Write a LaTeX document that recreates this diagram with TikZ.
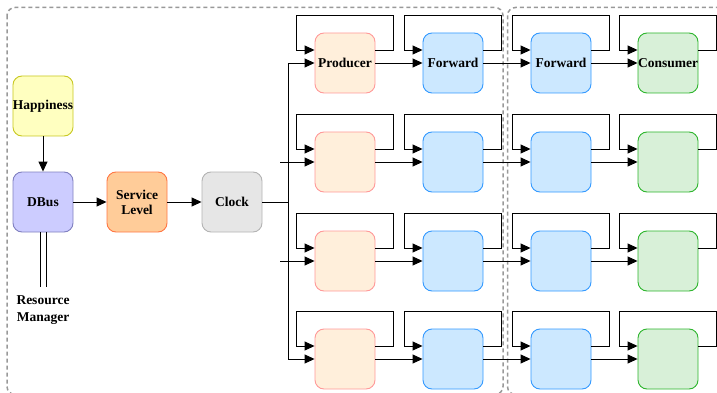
\documentclass[tikz,border=0pt]{standalone}
\usepackage{fontspec}
\setmainfont{Liberation Serif}
\usetikzlibrary{arrows.meta}
\definecolor{prodF}{HTML}{FFEFDB}\definecolor{prodD}{HTML}{FF9999}
\definecolor{fwdF}{HTML}{CCE8FF}\definecolor{fwdD}{HTML}{3399FF}
\definecolor{conF}{HTML}{D8F0D8}\definecolor{conD}{HTML}{2DB52D}
\definecolor{hapF}{HTML}{FFFFC0}\definecolor{hapD}{HTML}{C8C820}
\definecolor{dbF}{HTML}{CCCCFF}\definecolor{dbD}{HTML}{8080C0}
\definecolor{slF}{HTML}{FFCC99}\definecolor{slD}{HTML}{FF7744}
\definecolor{clF}{HTML}{E6E6E6}\definecolor{clD}{HTML}{B3B3B3}
\definecolor{frameC}{HTML}{999999}
\tikzset{
  txt/.style={font=\fontsize{13.5}{15}\selectfont\bfseries},
  blk/.style={rounded corners=9pt, minimum width=60pt, minimum height=60pt, inner sep=0pt, line width=0.9pt, align=center, txt},
  prod/.style={blk, fill=prodF, draw=prodD},
  fwd/.style={blk, fill=fwdF, draw=fwdD},
  con/.style={blk, fill=conF, draw=conD},
  arr/.style={line width=0.9pt, -{Triangle[length=10pt,width=9pt]}},
  ln/.style={line width=0.9pt},
  frm/.style={draw=frameC, line width=1.5pt, dash pattern=on 4pt off 3pt, rounded corners=8pt},
  lbl/.style={align=center, font=\fontsize{13.5}{17}\selectfont\bfseries}
}
\begin{document}
\begin{tikzpicture}[x=1pt,y=-1pt]
\clip (0,0) rectangle (717,393);
% frames
\draw[frm] (7,7.5) rectangle (503,394.5);
\draw[frm] (507.5,7.5) rectangle (740,394.5);
% left part
\node[blk, fill=hapF, draw=hapD] (hap) at (43,106) {Happiness};
\node[blk, fill=dbF, draw=dbD] (dbus) at (43,202) {DBus};
\node[blk, fill=slF, draw=slD] (sl) at (137,202) {Service\\Level};
\node[blk, fill=clF, draw=clD] (clk) at (232,202) {Clock};
\node[lbl] (rm) at (43,310) {Resource\\Manager};
\coordinate (rmtop) at (43,287);
\draw[arr] (hap) -- (dbus);
\draw[arr] (dbus) -- (sl);
\draw[arr] (sl) -- (clk);
\draw[ln] ([xshift=-3pt]dbus.south) -- ([xshift=-3pt]rmtop);
\draw[ln] ([xshift=3pt]dbus.south) -- ([xshift=3pt]rmtop);
% grid
\foreach \r/\y in {1/63,2/162,3/261,4/359}{
  \node[prod] (P\r) at (345,\y) {};
  \node[fwd] (F\r) at (453,\y) {};
  \node[fwd] (G\r) at (561,\y) {};
  \node[con] (C\r) at (668,\y) {};
}
\node[txt] at (P1) {Producer};
\node[txt] at (F1) {Forward};
\node[txt] at (G1) {Forward};
\node[txt] at (C1) {Consumer};
\foreach \r in {1,2,3,4}{
  \draw[arr] (P\r) -- (F\r);
  \draw[arr] (F\r) -- (G\r);
  \draw[arr] (G\r) -- (C\r);
  \foreach \b in {P,F,G,C}{
    \draw[arr] ([yshift=13pt]\b\r.east) -- ++(18,0) -- ++(0,-35) -- ++(-97,0) |- ([yshift=13pt]\b\r.west);
  }
}
% bus from clock
\coordinate (bus) at (288,202);
\coordinate (in2) at (280,162);
\coordinate (in3) at (280,261);
\draw[ln] (clk) -- (bus);
\draw[arr] (bus) |- (P1.west);
\draw[arr] (bus) |- (P4.west);
\draw[arr] (in2) -- (P2.west);
\draw[arr] (in3) -- (P3.west);
\end{tikzpicture}
\end{document}
